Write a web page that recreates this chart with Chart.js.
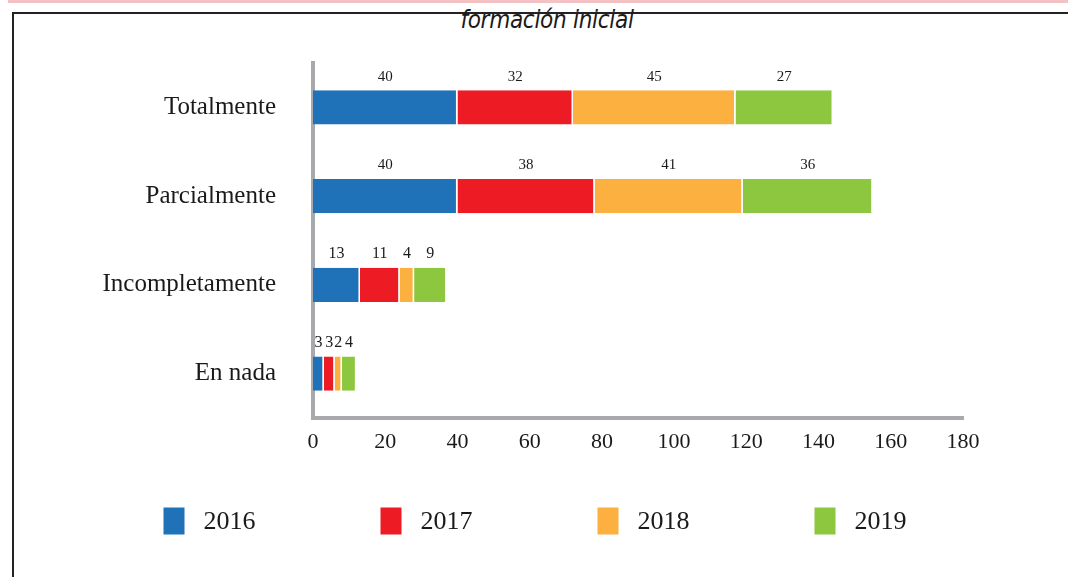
<!DOCTYPE html>
<html>
<head>
<meta charset="utf-8">
<script src="https://cdn.jsdelivr.net/npm/chart.js@4.4.0/dist/chart.umd.min.js"></script>
<style>
  html, body { margin: 0; padding: 0; background: #fff; }
  body { width: 1068px; height: 577px; position: relative; overflow: hidden; }
  #topline { position: absolute; left: 8px; top: 0; width: 1060px; height: 3px; background: #f5c2c4; }
  #frame { position: absolute; left: 12px; top: 12px; width: 1100px; height: 600px; border-left: 2px solid #222; border-top: 2px solid #222; }
  #title { position: absolute; left: 0; width: 1094px; top: 6px; text-align: center;
           font: italic 24px "Liberation Sans Narrow", "DejaVu Sans Condensed", sans-serif; color: #1a1a1a; letter-spacing: -0.3px; }
  #wrap { position: absolute; left: 0; top: 0; width: 1068px; height: 577px; }
</style>
</head>
<body>
<div id="topline"></div>
<div id="frame"></div>
<div id="title">formación inicial</div>
<div id="wrap"><canvas id="chart" width="1068" height="577"></canvas></div>
<script>
// data
var categories = ['Totalmente', 'Parcialmente', 'Incompletamente', 'En nada'];
var years = ['2016', '2017', '2018', '2019'];
var values2016 = [40, 40, 13, 3];
var values2017 = [32, 38, 11, 3];
var values2018 = [45, 41, 4, 2];
var values2019 = [27, 36, 9, 4];
var xTicks = [0, 20, 40, 60, 80, 100, 120, 140, 160, 180];

var colors = ['#1f71b8', '#ed1c24', '#fbb040', '#8dc63f'];
var serif = '"Liberation Serif", "DejaVu Serif", serif';
var ink = '#1a1a1a';

function makeSet(i, data){
	return {
		label: years[i],
		data: data,
		backgroundColor: colors[i],
		borderColor: '#ffffff',
		borderWidth: {top: 0, bottom: 0, left: 0, right: 1.5},
		borderSkipped: false,
		barPercentage: 0.77,
		categoryPercentage: 0.5
	};
}

// numbers above each segment
var valueLabels = {
	id: 'valueLabels',
	afterDatasetsDraw: function(chart){
		var ctx = chart.ctx;
		ctx.save();
		ctx.fillStyle = ink;
		ctx.textAlign = 'center';
		ctx.textBaseline = 'bottom';
		chart.data.datasets.forEach(function(ds, i){
			chart.getDatasetMeta(i).data.forEach(function(bar, j){
				// the two short bars use a slightly bigger face, as in the source
				ctx.font = (j >= 2 ? '16px ' : '15px ') + serif;
				var cx = (bar.x + bar.base) / 2;
				var top = bar.y - bar.height / 2;
				ctx.fillText(String(ds.data[j]), cx, top - 6);
			});
		});
		ctx.restore();
	}
};

// legend row along the bottom
var bottomLegend = {
	id: 'bottomLegend',
	afterDraw: function(chart){
		var ctx = chart.ctx;
		var step = 217, boxW = 21, boxH = 27, gap = 19;
		var y = 521;
		ctx.save();
		ctx.font = '26px ' + serif;
		var lastW = ctx.measureText(years[years.length - 1]).width;
		var total = step * (years.length - 1) + boxW + gap + lastW;
		var x0 = 535 - total / 2;
		ctx.textBaseline = 'middle';
		ctx.textAlign = 'left';
		chart.data.datasets.forEach(function(ds, i){
			var x = x0 + i * step;
			ctx.fillStyle = ds.backgroundColor;
			ctx.fillRect(x, y - boxH / 2, boxW, boxH);
			ctx.fillStyle = ink;
			ctx.fillText(ds.label, x + boxW + gap, y + 1);
		});
		ctx.restore();
	}
};

var chart = new Chart(document.getElementById('chart'), {
	type: 'bar',
	data: {
		labels: categories,
		datasets: [
			makeSet(0, values2016),
			makeSet(1, values2017),
			makeSet(2, values2018),
			makeSet(3, values2019)
		]
	},
	options: {
		indexAxis: 'y',
		responsive: false,
		animation: false,
		layout: { padding: { top: 63, right: 105, left: 0, bottom: 0 } },
		plugins: {
			legend: { display: false },
			title: { display: false },
			tooltip: { enabled: false }
		},
		scales: {
			x: {
				stacked: true,
				min: 0,
				max: 180,
				afterBuildTicks: function(scale){
					scale.ticks = xTicks.map(function(v){ return {value: v}; });
				},
				afterFit: function(scale){ scale.height = 159; },
				grid: { display: false, drawTicks: false },
				border: { display: true, color: '#a7a9ac', width: 4 },
				ticks: { color: ink, font: { family: serif, size: 22 }, padding: 11, maxRotation: 0 }
			},
			y: {
				stacked: true,
				afterFit: function(scale){ scale.width = 313; },
				grid: { display: false, drawTicks: false },
				border: { display: true, color: '#a7a9ac', width: 4 },
				ticks: { color: ink, font: { family: serif, size: 25 }, padding: 37 }
			}
		}
	},
	plugins: [valueLabels, bottomLegend]
});
</script>
</body>
</html>
